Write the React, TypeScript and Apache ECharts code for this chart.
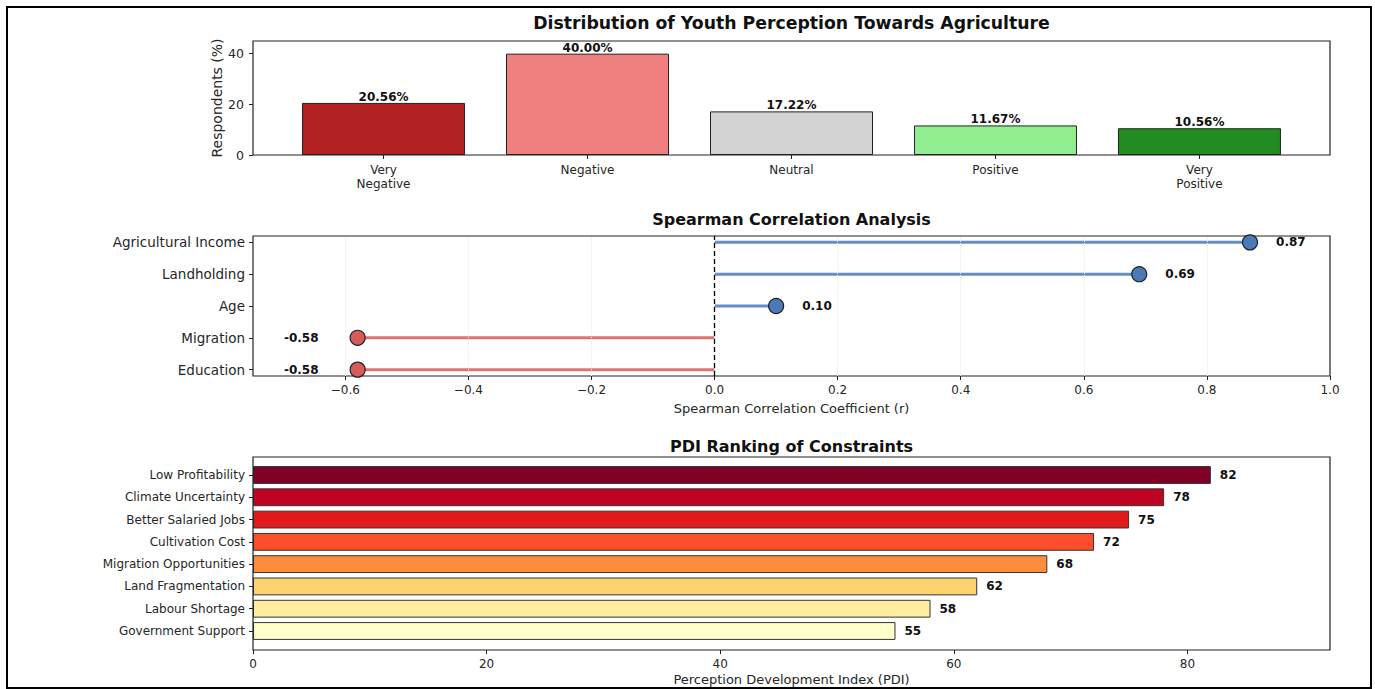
import React, { useEffect, useRef } from 'react';
import * as echarts from 'echarts';

// ---------- data ----------
const perceptionCategories = ['Very\nNegative', 'Negative', 'Neutral', 'Positive', 'Very\nPositive'];
const perceptionValues = [20.56, 40.0, 17.22, 11.67, 10.56];
const perceptionColors = ['#b22222', '#f08080', '#d3d3d3', '#90ee90', '#228b22'];
const perceptionTicks = [0, 20, 40];

// bottom to top
const corrVariables = ['Education', 'Migration', 'Age', 'Landholding', 'Agricultural Income'];
const corrValues = [-0.58, -0.58, 0.1, 0.69, 0.87];
const corrTicks = [-0.6, -0.4, -0.2, 0, 0.2, 0.4, 0.6, 0.8, 1.0];

// top to bottom
const constraints = [
  'Low Profitability',
  'Climate Uncertainty',
  'Better Salaried Jobs',
  'Cultivation Cost',
  'Migration Opportunities',
  'Land Fragmentation',
  'Labour Shortage',
  'Government Support',
];
const pdiValues = [82, 78, 75, 72, 68, 62, 58, 55];
const pdiColors = ['#800026', '#c00323', '#e31a1c', '#fc4e2a', '#fd8d3c', '#fed26e', '#ffeda0', '#ffffcc'];
const pdiTicks = [0, 20, 40, 60, 80];

const FONT = 'DejaVu Sans';
const TXT = '#262626';
const BLUE = '#4a7ab8';
const RED = '#d65c5c';

export default function App() {
  const ref = useRef<HTMLDivElement>(null);

  useEffect(() => {
    if (!ref.current) return;
    const chart = echarts.init(ref.current, undefined, { renderer: 'svg' });

    const titleStyle = { fontFamily: FONT, fontWeight: 'bold' as const, fontSize: 16, color: '#111' };
    const hiddenLine = { show: false, onZero: false };

    const stemSeries = corrValues.map((v, i) => ({
      type: 'line',
      xAxisIndex: 1,
      yAxisIndex: 1,
      data: [[0, i], [v, i]],
      symbol: 'none',
      showSymbol: false,
      silent: true,
      z: 2,
      label: { show: false },
      lineStyle: { color: v >= 0 ? BLUE : RED, width: 3, opacity: 0.85 },
    }));

    const option: any = {
      animation: false,
      backgroundColor: '#fff',
      textStyle: { fontFamily: FONT },
      title: [
        { text: 'Distribution of Youth Perception Towards Agriculture', left: 791.5, top: 14, textAlign: 'center', padding: 0, textStyle: { ...titleStyle, fontSize: 17.3 } },
        { text: 'Spearman Correlation Analysis', left: 791.5, top: 211, textAlign: 'center', padding: 0, textStyle: titleStyle },
        { text: 'PDI Ranking of Constraints', left: 791.5, top: 438, textAlign: 'center', padding: 0, textStyle: titleStyle },
      ],
      grid: [
        { left: 253, top: 41, width: 1077, height: 114, show: true, borderColor: '#222', borderWidth: 1.2 },
        { left: 253, top: 236, width: 1077, height: 140, show: true, borderColor: '#222', borderWidth: 1.2 },
        { left: 253, top: 463.85, width: 1077, height: 178.3, show: false },
      ],
      xAxis: [
        {
          gridIndex: 0,
          type: 'value',
          min: -0.64,
          max: 4.64,
          axisLine: hiddenLine,
          splitLine: { show: false },
          axisTick: { show: true, customValues: [0, 1, 2, 3, 4], length: 4, lineStyle: { color: '#222' } },
          axisLabel: {
            customValues: [0, 1, 2, 3, 4],
            formatter: (v: number) => perceptionCategories[Math.round(v)],
            fontSize: 12,
            lineHeight: 14,
            color: TXT,
            margin: 8,
          },
        },
        {
          gridIndex: 1,
          type: 'value',
          min: -0.75,
          max: 1.0,
          name: 'Spearman Correlation Coefficient (r)',
          nameLocation: 'middle',
          nameGap: 26,
          nameMoveOverlap: false,
          nameTextStyle: { fontSize: 13, color: TXT, verticalAlign: 'top' },
          axisLine: hiddenLine,
          splitLine: { show: false },
          axisTick: { show: true, customValues: corrTicks, length: 4, lineStyle: { color: '#222' } },
          axisLabel: {
            customValues: corrTicks,
            formatter: (v: number) => (v < -1e-9 ? '\u2212' : '') + Math.abs(v).toFixed(1),
            fontSize: 12,
            color: TXT,
            margin: 8,
          },
        },
        {
          gridIndex: 2,
          type: 'value',
          min: 0,
          max: 92.2,
          offset: 7.85,
          name: 'Perception Development Index (PDI)',
          nameLocation: 'middle',
          nameGap: 23,
          nameMoveOverlap: false,
          nameTextStyle: { fontSize: 13, color: TXT, verticalAlign: 'top' },
          axisLine: hiddenLine,
          splitLine: { show: false },
          axisTick: { show: true, customValues: pdiTicks, length: 4, lineStyle: { color: '#222' } },
          axisLabel: { customValues: pdiTicks, fontSize: 12, color: TXT, margin: 8 },
        },
      ],
      yAxis: [
        {
          gridIndex: 0,
          type: 'value',
          min: 0,
          max: 45,
          name: 'Respondents (%)',
          nameLocation: 'middle',
          nameGap: 29,
          nameMoveOverlap: false,
          nameTextStyle: { fontSize: 14, color: TXT },
          axisLine: hiddenLine,
          splitLine: { show: false },
          axisTick: { show: true, customValues: perceptionTicks, length: 4, lineStyle: { color: '#222' } },
          axisLabel: { customValues: perceptionTicks, fontSize: 12.5, color: TXT, margin: 9 },
        },
        {
          gridIndex: 1,
          type: 'value',
          min: -0.2,
          max: 4.2,
          axisLine: hiddenLine,
          splitLine: { show: false },
          axisTick: { show: true, customValues: [0, 1, 2, 3, 4], length: 4, lineStyle: { color: '#222' } },
          axisLabel: {
            customValues: [0, 1, 2, 3, 4],
            formatter: (v: number) => corrVariables[Math.round(v)],
            fontSize: 13.5,
            color: TXT,
            margin: 8,
          },
        },
        {
          gridIndex: 2,
          type: 'category',
          inverse: true,
          data: constraints,
          axisLine: hiddenLine,
          splitLine: { show: false },
          axisTick: { show: true, alignWithLabel: true, length: 4, lineStyle: { color: '#222' } },
          axisLabel: { fontSize: 12, color: TXT, margin: 8 },
        },
      ],
      series: [
        {
          type: 'bar',
          xAxisIndex: 0,
          yAxisIndex: 0,
          barWidth: 163,
          data: perceptionValues.map((v, i) => ({ value: [i, v], itemStyle: { color: perceptionColors[i] } })),
          itemStyle: { borderColor: '#222', borderWidth: 1 },
          label: {
            show: true,
            position: 'top',
            distance: 0,
            formatter: (p: any) => p.value[1].toFixed(2) + '%',
            fontWeight: 'bold',
            fontSize: 12,
            color: '#111',
          },
        },
        {
          type: 'scatter',
          xAxisIndex: 1,
          yAxisIndex: 1,
          data: [],
          silent: true,
          z: 1,
          markLine: {
            silent: true,
            symbol: ['none', 'none'],
            label: { show: false },
            data: corrTicks
              .filter((t) => t < 0.99)
              .map((t) => ({
                xAxis: t,
                lineStyle: { type: 'dotted', color: '#ececec', width: 1 },
              })),
          },
        },
        ...stemSeries,
        {
          type: 'scatter',
          xAxisIndex: 1,
          yAxisIndex: 1,
          data: [],
          silent: true,
          z: 3,
          markLine: {
            silent: true,
            symbol: ['none', 'none'],
            label: { show: false },
            data: [{ xAxis: 0, lineStyle: { type: [5, 3], color: '#000', width: 1.3 } }],
          },
        },
        {
          type: 'scatter',
          xAxisIndex: 1,
          yAxisIndex: 1,
          symbol: 'circle',
          symbolSize: 15,
          z: 4,
          data: corrValues.map((v, i) => ({
            value: [v, i],
            itemStyle: { color: v >= 0 ? BLUE : RED },
            label: { position: v >= 0 ? 'right' : 'left', distance: v >= 0 ? 18 : 31 },
          })),
          itemStyle: { borderColor: '#222', borderWidth: 1.2, opacity: 1 },
          label: {
            show: true,
            formatter: (p: any) => p.value[0].toFixed(2),
            fontWeight: 'bold',
            fontSize: 12,
            color: '#111',
          },
        },
        {
          type: 'bar',
          xAxisIndex: 2,
          yAxisIndex: 2,
          barWidth: '80%',
          data: pdiValues.map((v, i) => ({ value: v, itemStyle: { color: pdiColors[i] } })),
          itemStyle: { borderColor: '#333', borderWidth: 1 },
          label: { show: true, position: 'right', distance: 9, fontWeight: 'bold', fontSize: 12, color: '#111' },
        },
      ],
      graphic: [
        {
          type: 'rect',
          silent: true,
          z: 100,
          shape: { x: 253, y: 457, width: 1077, height: 193 },
          style: { fill: 'none', stroke: '#222', lineWidth: 1.2 },
        },
        {
          type: 'rect',
          silent: true,
          z: 100,
          shape: { x: 7, y: 7, width: 1364, height: 681 },
          style: { fill: 'none', stroke: '#000', lineWidth: 2 },
        },
      ],
    };

    chart.setOption(option);
    return () => chart.dispose();
  }, []);

  return <div ref={ref} style={{ position: 'absolute', left: 0, top: 0, width: 1375, height: 689 }} />;
}
